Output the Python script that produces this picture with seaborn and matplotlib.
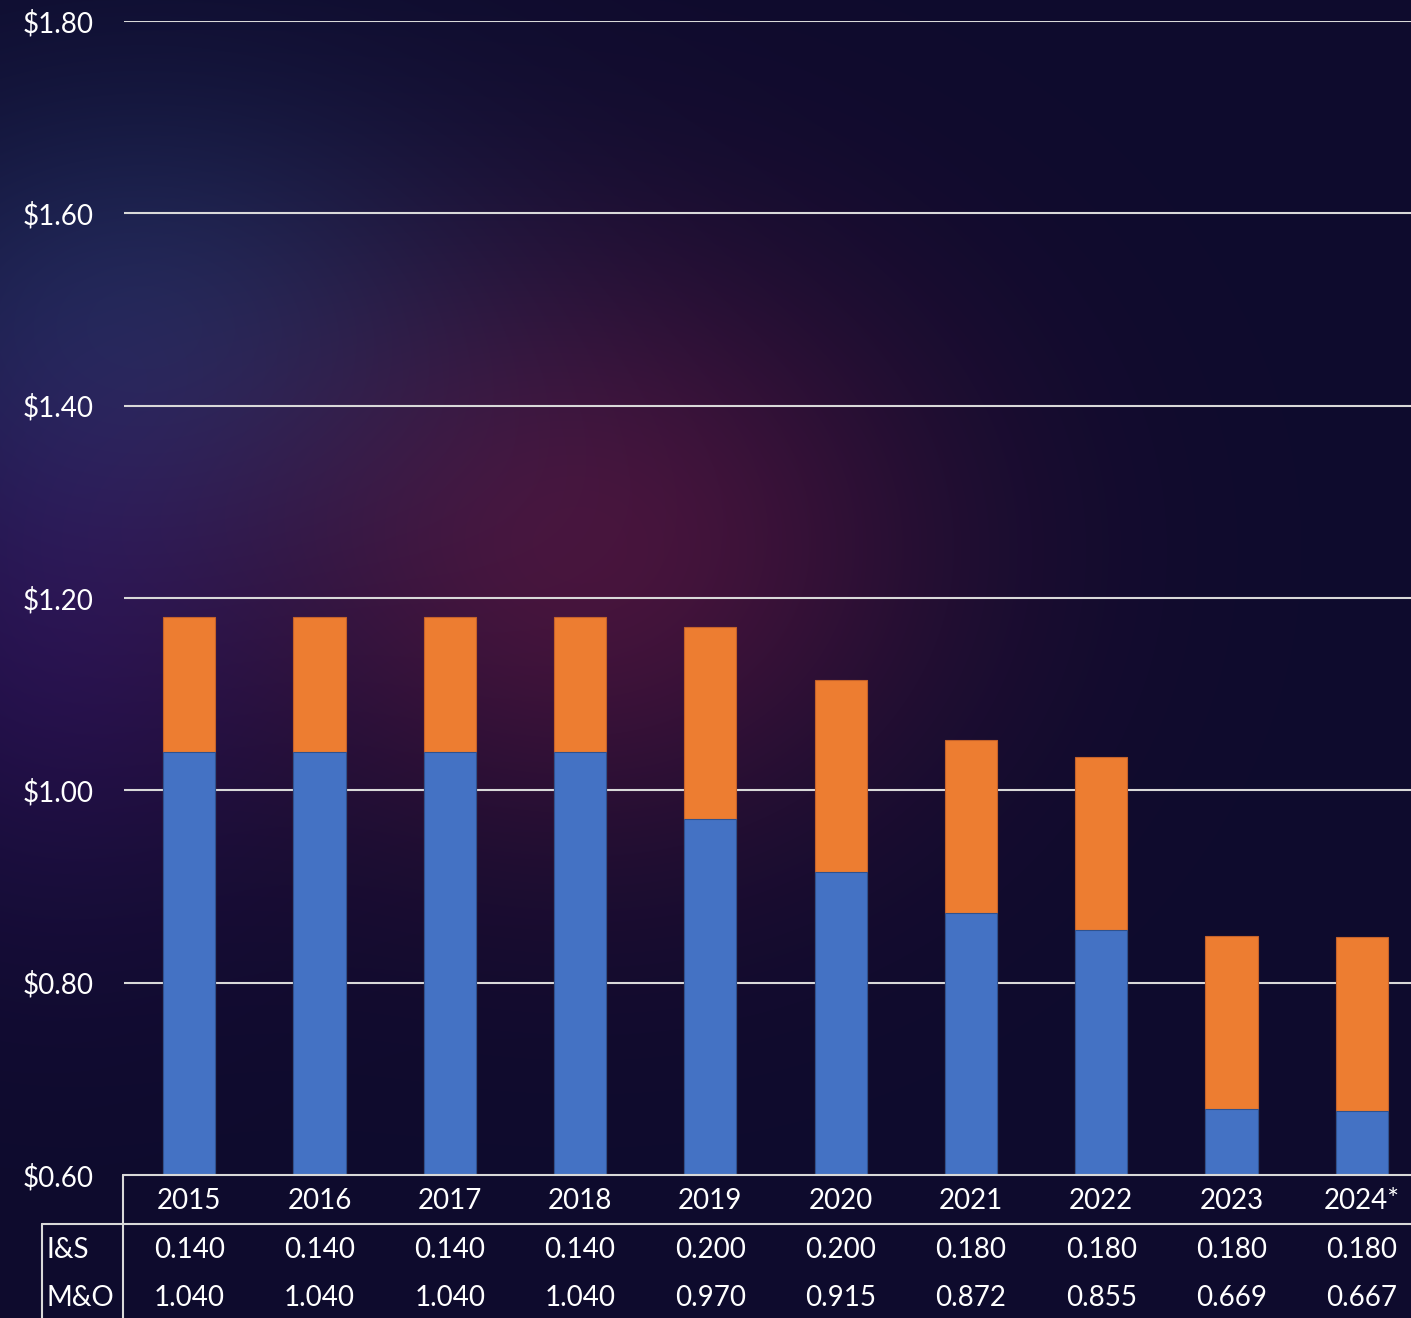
import numpy as np
import pandas as pd
import matplotlib
matplotlib.use("Agg")
import matplotlib.pyplot as plt
import matplotlib.transforms as mtransforms
from matplotlib.lines import Line2D
import seaborn as sns

# ---------------- data ----------------
years = ["2015", "2016", "2017", "2018", "2019", "2020", "2021", "2022", "2023", "2024*"]
is_rate = [0.140, 0.140, 0.140, 0.140, 0.200, 0.200, 0.180, 0.180, 0.180, 0.180]
mo_rate = [1.040, 1.040, 1.040, 1.040, 0.970, 0.915, 0.872, 0.855, 0.669, 0.667]
y_ticks = [0.60, 0.80, 1.00, 1.20, 1.40, 1.60, 1.80]
row_labels = ["I&S", "M&O"]

df = pd.DataFrame({"year": years, "IS": is_rate, "MO": mo_rate})
df["total"] = df["IS"] + df["MO"]

# ---------------- style ----------------
sns.set_theme(style="white")
plt.rcParams['font.family'] = ['Lato', 'DejaVu Sans']

W, H = 1411, 1318
fig = plt.figure(figsize=(W / 100, H / 100), dpi=100)
base_rgb = np.array([14, 11, 45]) / 255
fig.patch.set_facecolor(base_rgb)

# background glow
bg = fig.add_axes([0, 0, 1, 1], zorder=-10)
yy, xx = np.mgrid[0:H, 0:W]
img = np.ones((H, W, 3)) * base_rgb


def blob(cx, cy, sx, sy, col, amp):
    w = amp * np.exp(-(((xx - cx) / sx) ** 2 + ((yy - cy) / sy) ** 2) / 2)
    return w[..., None] * (np.array(col) / 255 - base_rgb)


img = img + blob(590, 550, 250, 210, (74, 20, 60), 0.95)
img = img + blob(40, 620, 170, 210, (44, 18, 88), 0.7)
img = img + blob(140, 310, 240, 170, (28, 42, 86), 0.85)
img = np.clip(img, 0, 1)
bg.imshow(img, aspect="auto", extent=(0, W, H, 0))
bg.set_axis_off()

# main axes (extends slightly past right edge, as in reference)
left_px, right_px = 124, 1427
top_px, bottom_px = 21, 1175
ax = fig.add_axes([left_px / W, 1 - bottom_px / H,
                   (right_px - left_px) / W, (bottom_px - top_px) / H])
ax.set_facecolor("none")

orange = "#ED7D31"
blue = "#4472C4"
sns.barplot(data=df, x="year", y="total", color=orange, width=0.4,
            edgecolor="#C5622A", linewidth=0.8, saturation=1, ax=ax, zorder=3)
sns.barplot(data=df, x="year", y="MO", color=blue, width=0.4,
            edgecolor="#2F528F", linewidth=0.8, saturation=1, ax=ax, zorder=4)

ax.set_ylim(min(y_ticks), max(y_ticks))
ax.set_xlim(-0.5, len(years) - 0.5)
ax.set_yticks(y_ticks)
ax.set_yticklabels([f"${v:.2f}" for v in y_ticks], color="white", fontsize=20)
ax.tick_params(axis="y", length=0, pad=22)
ax.set_xticks([])
ax.set_xlabel("")
ax.set_ylabel("")
for s in ax.spines.values():
    s.set_visible(False)
grid_col = "#D9D9D9"
for v in y_ticks[1:]:
    ax.axhline(v, color=grid_col, lw=1.5, zorder=1)

# ---------------- data table ----------------
blend = mtransforms.blended_transform_factory(ax.transData, ax.transAxes)
span = bottom_px - top_px
y_year = -(1201 - bottom_px) / span
y_is = -(1250 - bottom_px) / span
y_mo = -(1298 - bottom_px) / span
for i, yr in enumerate(years):
    ax.text(i, y_year, yr, transform=blend, ha="center", va="center",
            color="white", fontsize=20, clip_on=False)
    ax.text(i, y_is, f"{is_rate[i]:.3f}", transform=blend, ha="center", va="center",
            color="white", fontsize=20, clip_on=False)
    ax.text(i, y_mo, f"{mo_rate[i]:.3f}", transform=blend, ha="center", va="center",
            color="white", fontsize=20, clip_on=False)

fig.text(47 / W, 1 - 1250 / H, row_labels[0], ha="left", va="center",
         color="white", fontsize=20)
fig.text(47 / W, 1 - 1298 / H, row_labels[1], ha="left", va="center",
         color="white", fontsize=20)


def hline(y, x0, x1):
    fig.add_artist(Line2D([x0 / W, x1 / W], [1 - y / H, 1 - y / H],
                          transform=fig.transFigure, color=grid_col, lw=1.5))


def vline(x, y0, y1):
    fig.add_artist(Line2D([x / W, x / W], [1 - y0 / H, 1 - y1 / H],
                          transform=fig.transFigure, color=grid_col, lw=1.5))


hline(1175, 123, W)
hline(1224, 42, W)
vline(123, 1175, H)
vline(42, 1224, H)

fig.savefig("out.png", dpi=100, facecolor=fig.get_facecolor())
